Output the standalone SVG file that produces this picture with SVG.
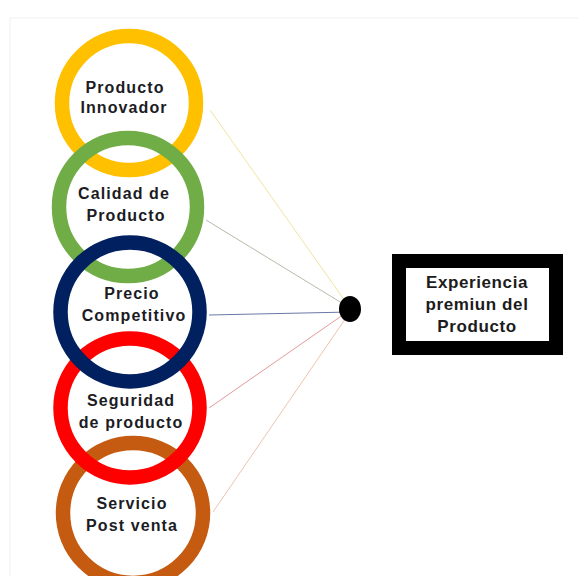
<svg xmlns="http://www.w3.org/2000/svg" width="578" height="576" viewBox="0 0 578 576">
<style>
.ring{fill:none;stroke-width:14.5}
.lbl{font-family:"Liberation Sans",Arial,sans-serif;font-weight:bold;font-size:16px;letter-spacing:1.1px;fill:#1c1c24;text-anchor:middle}
.box{font-family:"Liberation Sans",Arial,sans-serif;font-weight:bold;font-size:17px;letter-spacing:0.6px;fill:#1c1c1c;text-anchor:middle}
.ln{stroke-width:1;fill:none}
</style>
<rect width="578" height="576" fill="#ffffff"/>
<rect x="10" y="18" width="580" height="570" fill="none" stroke="#f1f1f1" stroke-width="1"/>
<g id="connectors">
<line class="ln" x1="210" y1="110" x2="350" y2="308" stroke="#f3e3a0"/>
<line class="ln" x1="206" y1="220" x2="350" y2="308" stroke="#b4bca8"/>
<line class="ln" x1="209" y1="315" x2="350" y2="312" stroke="#6a78a8"/>
<line class="ln" x1="209" y1="408" x2="350" y2="310" stroke="#e49a9a"/>
<line class="ln" x1="213" y1="512" x2="350" y2="312" stroke="#ecc4ae"/>
</g>
<g id="n1">
<circle class="ring" cx="129" cy="103" r="67" stroke="#FFC000"/>
<text class="lbl" x="125" y="93">Producto</text>
<text class="lbl" x="124" y="113">Innovador</text>
</g>
<g id="n2">
<circle class="ring" cx="128" cy="207" r="69" stroke="#70AD47"/>
<text class="lbl" x="124" y="199">Calidad de</text>
<text class="lbl" x="126" y="221">Producto</text>
</g>
<g id="n5">
<circle class="ring" cx="133" cy="513" r="70" stroke="#C55A11"/>
<text class="lbl" x="132" y="509">Servicio</text>
<text class="lbl" x="132" y="531">Post venta</text>
</g>
<g id="n4">
<circle class="ring" cx="130" cy="408" r="69.5" stroke="#FF0000"/>
<text class="lbl" x="131" y="406">Seguridad</text>
<text class="lbl" x="131" y="428">de producto</text>
</g>
<g id="n3">
<circle class="ring" cx="130" cy="312" r="69.5" stroke="#002060"/>
<text class="lbl" x="132" y="299">Precio</text>
<text class="lbl" x="134" y="321">Competitivo</text>
</g>
<g id="hub">
<ellipse cx="350" cy="309" rx="11" ry="13" fill="#000"/>
</g>
<g id="result">
<rect x="399" y="261" width="157" height="87" fill="#fff" stroke="#000" stroke-width="14"/>
<text class="box" x="477" y="288">Experiencia</text>
<text class="box" x="477" y="310">premiun del</text>
<text class="box" x="477" y="332">Producto</text>
</g>
</svg>
